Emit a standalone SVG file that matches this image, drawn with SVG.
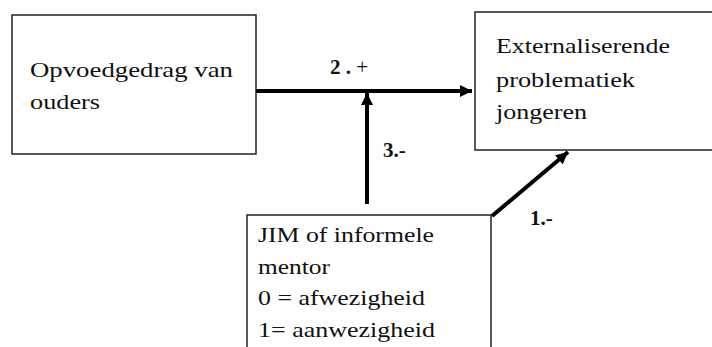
<svg xmlns="http://www.w3.org/2000/svg" width="712" height="347" viewBox="0 0 712 347">
<style>
.box{fill:#fff;stroke:#222;stroke-width:1.5}
.t{font-family:'Liberation Serif','Times New Roman',Tinos,'DejaVu Serif',serif;font-size:21px;fill:#111}
.lb{font-family:'Liberation Serif','Times New Roman',Tinos,'DejaVu Serif',serif;font-size:21px;fill:#111;font-weight:bold}
.c{stroke:#000;stroke-width:4;fill:none}
</style>
<defs>
<marker id="ah" markerWidth="12" markerHeight="12" refX="10" refY="5" orient="auto" markerUnits="userSpaceOnUse" viewBox="0 0 10 10">
<path d="M0,0 L10,5 L0,10 z" fill="#000"/>
</marker>
</defs>
<rect width="712" height="347" fill="#fff"/>
<g id="opvoed">
<rect class="box" x="12" y="15" width="244" height="139"/>
<text class="t" x="30" y="77" textLength="203" lengthAdjust="spacingAndGlyphs">Opvoedgedrag van</text>
<text class="t" x="30" y="109" textLength="70" lengthAdjust="spacingAndGlyphs">ouders</text>
</g>
<g id="external">
<rect class="box" x="475" y="12" width="245" height="138"/>
<text class="t" x="496" y="53" textLength="174" lengthAdjust="spacingAndGlyphs">Externaliserende</text>
<text class="t" x="496" y="87" textLength="139" lengthAdjust="spacingAndGlyphs">problematiek</text>
<text class="t" x="496" y="119" textLength="91" lengthAdjust="spacingAndGlyphs">jongeren</text>
</g>
<g id="jim">
<rect class="box" x="247" y="215" width="244" height="150"/>
<text class="t" x="258" y="242" textLength="176" lengthAdjust="spacingAndGlyphs">JIM of informele</text>
<text class="t" x="258" y="274" textLength="72" lengthAdjust="spacingAndGlyphs">mentor</text>
<text class="t" x="258" y="305" textLength="167" lengthAdjust="spacingAndGlyphs">0 = afwezigheid</text>
<text class="t" x="258" y="337" textLength="177" lengthAdjust="spacingAndGlyphs">1= aanwezigheid</text>
</g>
<g id="connectors">
<line class="c" x1="256" y1="91" x2="472" y2="91" marker-end="url(#ah)"/>
<line class="c" x1="367" y1="204" x2="367" y2="93" marker-end="url(#ah)"/>
<line class="c" x1="492" y1="216" x2="568" y2="152" marker-end="url(#ah)"/>
<text class="lb" x="330" y="74">2 . <tspan font-weight="normal">+</tspan></text>
<text class="lb" x="383" y="157">3.-</text>
<text class="lb" x="530" y="225">1.-</text>
</g>
</svg>
